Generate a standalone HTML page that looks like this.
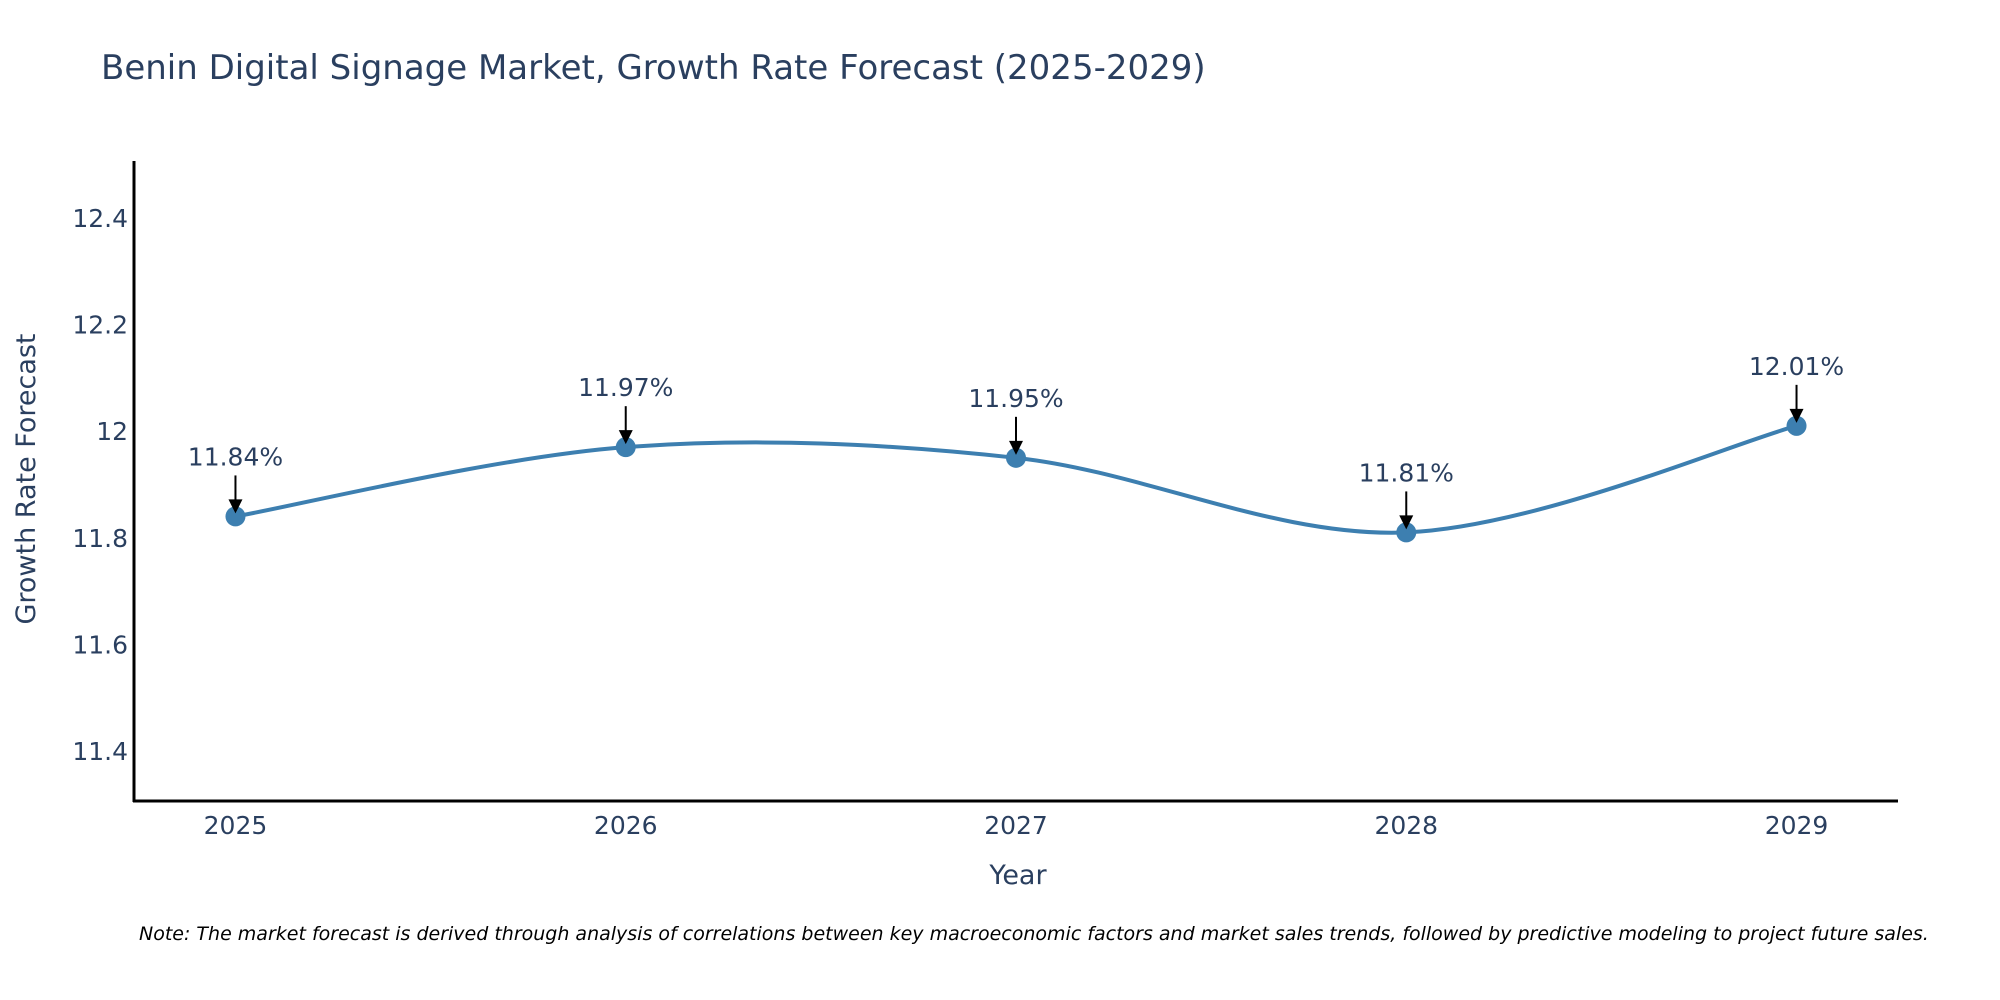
<!DOCTYPE html>
<html><head><meta charset="utf-8">
<style>
html,body{margin:0;padding:0;background:#fff;}
svg{display:block;font-family:"DejaVu Sans","Liberation Sans",sans-serif;}
</style></head>
<body>
<svg id="chart" width="2000" height="1000" viewBox="0 0 2000 1000">
<text x="101" y="79" font-size="34" fill="#2a3f5f">Benin Digital Signage Market, Growth Rate Forecast (2025-2029)</text>
<g id="yticks"></g>
<g id="xticks"></g>
<path id="line" fill="none" stroke="#3d7fb0" stroke-width="4"></path>
<g id="points"></g>
<g id="annots"></g>
<line x1="134" y1="161" x2="134" y2="802" stroke="#000" stroke-width="3"/>
<line x1="133" y1="801" x2="1898" y2="801" stroke="#000" stroke-width="3"/>
<text x="1018" y="884" font-size="27" fill="#2a3f5f" text-anchor="middle">Year</text>
<text transform="translate(35,479) rotate(-90)" font-size="27" fill="#2a3f5f" text-anchor="middle">Growth Rate Forecast</text>
<text x="139" y="940" font-size="19" font-style="italic" fill="#000">Note: The market forecast is derived through analysis of correlations between key macroeconomic factors and market sales trends, followed by predictive modeling to project future sales.</text>
</svg>
<script>
const years = [2025, 2026, 2027, 2028, 2029];
const rates = [11.84, 11.97, 11.95, 11.81, 12.01];
const labels = ["11.84%", "11.97%", "11.95%", "11.81%", "12.01%"];
const yTicks = [11.4, 11.6, 11.8, 12, 12.2, 12.4];
const yTickLabels = ["11.4", "11.6", "11.8", "12", "12.2", "12.4"];

const X0=134, X1=1898, Y0=161, Y1=801;
const xMin=2024.74, xMax=2029.26, yMin=11.306, yMax=12.507;
const sx = v => X0 + (v-xMin)/(xMax-xMin)*(X1-X0);
const sy = v => Y1 - (v-yMin)/(yMax-yMin)*(Y1-Y0);
const NS="http://www.w3.org/2000/svg";
function mk(tag, attrs, parent){const e=document.createElementNS(NS,tag);for(const k in attrs)e.setAttribute(k,attrs[k]);parent.appendChild(e);return e;}

const yt=document.getElementById('yticks');
yTicks.forEach((v,i)=>{
  const t=mk('text',{x:X0-6,y:sy(v)+9,'font-size':25,fill:'#2a3f5f','text-anchor':'end'},yt);
  
  
  t.textContent=yTickLabels[i];
});
const xt=document.getElementById('xticks');
years.forEach(v=>{
  const t=mk('text',{x:sx(v),y:834,'font-size':25,fill:'#2a3f5f','text-anchor':'middle'},xt);
  
  
  t.textContent=String(v);
});

const P=years.map((y,i)=>[sx(y),sy(rates[i])]);
let d=`M${P[0][0]},${P[0][1]}`;
const s=0.5;
for(let i=0;i<P.length-1;i++){
  const p0=P[Math.max(i-1,0)],p1=P[i],p2=P[i+1],p3=P[Math.min(i+2,P.length-1)];
  const c1=[p1[0]+(p2[0]-p0[0])*s/3,p1[1]+(p2[1]-p0[1])*s/3];
  const c2=[p2[0]-(p3[0]-p1[0])*s/3,p2[1]-(p3[1]-p1[1])*s/3];
  d+=` C${c1[0]},${c1[1]} ${c2[0]},${c2[1]} ${p2[0]},${p2[1]}`;
}
document.getElementById('line').setAttribute('d',d);

const pg=document.getElementById('points'), ag=document.getElementById('annots');
P.forEach((p,i)=>{
  const c=mk('circle',{cx:p[0],cy:p[1],r:10,fill:'#3d7fb0'},pg);
  
  
  const g=mk('g',{},ag);
  
  
  mk('line',{x1:p[0],y1:p[1]-41,x2:p[0],y2:p[1]-12,stroke:'#000','stroke-width':2},g);
  mk('polygon',{points:`${p[0]-7},${p[1]-17} ${p[0]+7},${p[1]-17} ${p[0]},${p[1]-3}`,fill:'#000'},g);
  const t=mk('text',{x:p[0],y:p[1]-51,'font-size':25,fill:'#2a3f5f','text-anchor':'middle'},g);
  t.textContent=labels[i];
});
</script>
</body></html>
